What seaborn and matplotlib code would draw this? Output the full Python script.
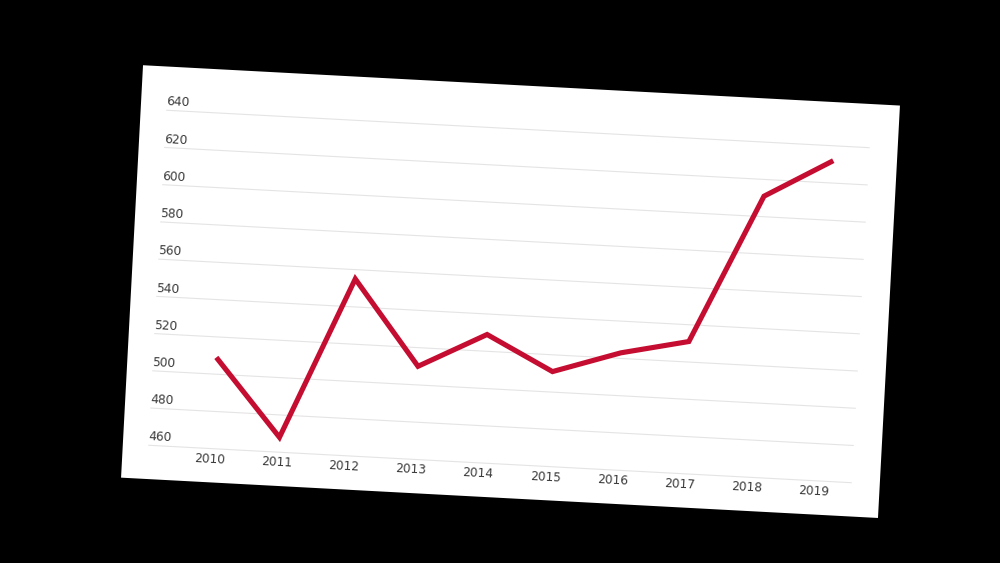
import matplotlib
matplotlib.use('Agg')
import matplotlib.pyplot as plt
import matplotlib.transforms as mtransforms
from matplotlib.patches import Rectangle
import seaborn as sns

# data
years = [2010, 2011, 2012, 2013, 2014, 2015, 2016, 2017, 2018, 2019]
values = [509, 468, 555, 510, 529, 511, 523, 531, 611, 632]
y_ticks = [460, 480, 500, 520, 540, 560, 580, 600, 620, 640]
x_labels = [str(y) for y in years]

sns.set_style('white')
plt.rcParams['font.family'] = ['DejaVu Sans']

W, H = 1000, 563
fig = plt.figure(figsize=(W / 100, H / 100), dpi=100, facecolor='black')

# the whole card is tilted a few degrees clockwise
angle = -3.05
rot = mtransforms.Affine2D().rotate_deg_around(510.5, 271.4, angle)

card = Rectangle((131.5 / W, 64.9 / H), 758 / W, 413 / H,
                 transform=fig.transFigure + rot,
                 facecolor='white', edgecolor='none', zorder=0)
fig.add_artist(card)

ax = fig.add_axes([157 / W, 98.7 / H, 704.5 / W, 335.5 / H])
ax.set_axis_off()
ax.patch.set_visible(False)

x0, x1 = 2009.06, 2019.53

# gridlines
ax.hlines(y_ticks, x0, x1, colors='#e4e4e4', linewidth=0.8,
          transform=ax.transData + rot, clip_on=False, zorder=1)

# the series
sns.lineplot(x=years, y=values, ax=ax, color='#c40d30', linewidth=3.7, zorder=3)
line = ax.lines[-1]
line.set_transform(ax.transData + rot)
line.set_clip_on(False)
line.set_solid_joinstyle('miter')
line.set_solid_capstyle('butt')

ax.set_xlim(x0, x1)
ax.set_ylim(460, 640)

# y labels sit just above their gridline, left aligned
ylab_tr = mtransforms.offset_copy(ax.get_yaxis_transform(), fig=fig, y=8.3, units='dots') + rot
for v in y_ticks:
    ax.text(0, v, str(v), transform=ylab_tr, ha='left', va='center',
            rotation=angle, rotation_mode='anchor', fontsize=8.7,
            color='#3a3a3a', clip_on=False)

# year labels below the bottom gridline
xlab_tr = mtransforms.offset_copy(ax.transData, fig=fig, x=-1.5, y=-10.5, units='dots') + rot
for yr, lab in zip(years, x_labels):
    ax.text(yr, 460, lab, transform=xlab_tr, ha='center', va='center',
            rotation=angle, rotation_mode='anchor', fontsize=8.7,
            color='#3a3a3a', clip_on=False)

fig.savefig('out.png', dpi=100, facecolor='black')
